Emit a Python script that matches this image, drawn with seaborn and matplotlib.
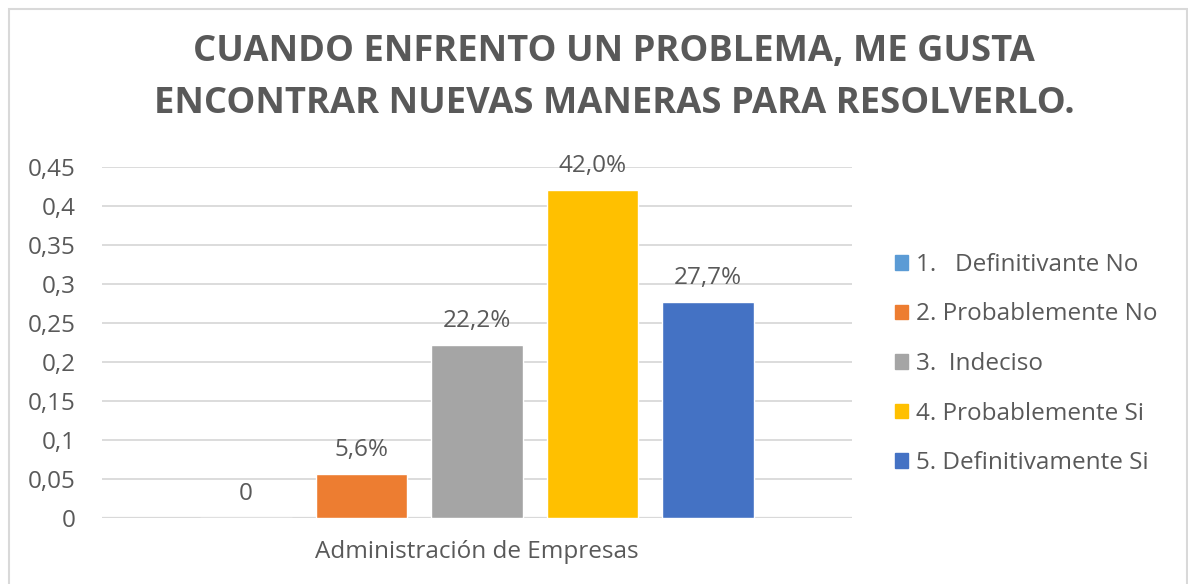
import matplotlib
matplotlib.use('Agg')
import matplotlib.pyplot as plt
import matplotlib.patches as mpatches
import seaborn as sns
import pandas as pd

# ── DATA ──────────────────────────────────────────────────────────────────────
GRUPO      = ["Administración de Empresas"]
RESPUESTAS = ["1.   Definitivante No", "2. Probablemente No", "3.  Indeciso",
              "4. Probablemente Si", "5. Definitivamente Si"]
VALORES    = [0.0, 0.056, 0.222, 0.42, 0.277]
ETIQUETAS  = ["0", "5,6%", "22,2%", "42,0%", "27,7%"]
COLORES    = ["#5B9BD5", "#ED7D31", "#A5A5A5", "#FFC000", "#4472C4"]
Y_TICKS    = [0, 0.05, 0.1, 0.15, 0.2, 0.25, 0.3, 0.35, 0.4, 0.45]
Y_LABELS   = ["0", "0,05", "0,1", "0,15", "0,2", "0,25", "0,3", "0,35", "0,4", "0,45"]
TITULO     = "CUANDO ENFRENTO UN PROBLEMA, ME GUSTA\nENCONTRAR NUEVAS MANERAS PARA RESOLVERLO."
# ─────────────────────────────────────────────────────────────────────────────

TEXT_COLOR = "#595959"
GRID_COLOR = "#D9D9D9"
FS = 17.5

sns.set_theme(style="white")
plt.rcParams['font.family'] = ['Open Sans', 'DejaVu Sans']

df = pd.DataFrame({
    "grupo": GRUPO * len(RESPUESTAS),
    "respuesta": RESPUESTAS,
    "valor": VALORES,
})

fig = plt.figure(figsize=(11.88, 5.84), dpi=100)
ax = fig.add_axes([0.0859, 0.113, 0.6313, 0.601])

sns.barplot(data=df, x="grupo", y="valor", hue="respuesta",
            hue_order=RESPUESTAS, palette=COLORES,
            width=0.77, gap=0.21, saturation=1, ax=ax, legend=False)

ax.set_xlim(-0.5, 0.5)
ax.set_ylim(0, 0.45)
ax.set_yticks(Y_TICKS)
ax.set_yticklabels(Y_LABELS)
ax.yaxis.grid(True, color=GRID_COLOR, linewidth=1.3)
ax.set_axisbelow(True)
ax.axhline(0, color=GRID_COLOR, linewidth=1.6, zorder=0.5)
for s in ax.spines.values():
    s.set_visible(False)
ax.tick_params(axis='both', length=0, labelsize=FS, colors=TEXT_COLOR)
ax.tick_params(axis='y', pad=19)
ax.tick_params(axis='x', pad=16)
ax.set_xlabel("")
ax.set_ylabel("")

# data labels
for cont, lab in zip(ax.containers, ETIQUETAS):
    bar = cont.patches[0]
    ax.annotate(lab, (bar.get_x() + bar.get_width() / 2, bar.get_height()),
                xytext=(0, 13), textcoords='offset points',
                ha='center', va='baseline', fontsize=FS, color=TEXT_COLOR)

fig.text(614 / 1188, 1 - 78 / 584, TITULO, ha='center', va='center', fontsize=26.2,
         fontweight='bold', color=TEXT_COLOR, linespacing=1.6)

handles = [mpatches.Patch(color=c, label=l) for c, l in zip(COLORES, RESPUESTAS)]
leg = fig.legend(handles=handles, loc='center left', bbox_to_anchor=(895 / 1188, 1 - 364 / 584),
                 frameon=False, fontsize=FS, handlelength=0.55, handleheight=0.55,
                 handletextpad=0.3, labelspacing=1.05, borderaxespad=0, borderpad=0)
for t in leg.get_texts():
    t.set_color(TEXT_COLOR)

# chart border
fig.patches.append(mpatches.Rectangle((8.5 / 1188, -0.05), 1178 / 1188, 1.05 - 8.5 / 584,
                                      transform=fig.transFigure, fill=False,
                                      edgecolor="#D9D9D9", linewidth=1.5))

fig.savefig("out.png", dpi=100)
